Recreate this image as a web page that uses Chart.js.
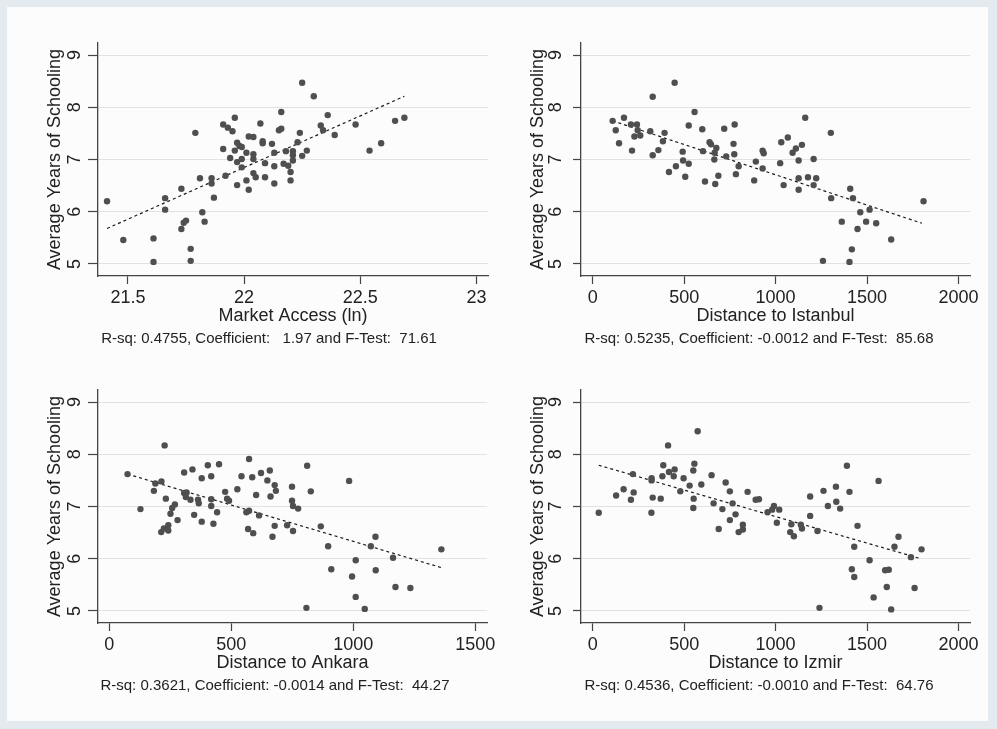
<!DOCTYPE html>
<html>
<head>
<meta charset="utf-8">
<script src="https://cdn.jsdelivr.net/npm/chart.js@4.4.0/dist/chart.umd.min.js"></script>
<style>
  html, body { margin: 0; padding: 0; }
  body { width: 997px; height: 729px; background: #e3eaf0; position: relative; overflow: hidden; }
  #sheet { position: absolute; left: 7px; top: 7px; width: 981px; height: 714px; background: #fcfcfc; }
  canvas { position: absolute; }
</style>
</head>
<body>
<div id="sheet"></div>
<canvas id="c1" width="486" height="330" style="left:10px;top:28px"></canvas>
<canvas id="c2" width="468" height="330" style="left:510px;top:28px"></canvas>
<canvas id="c3" width="485" height="330" style="left:10px;top:375px"></canvas>
<canvas id="c4" width="468" height="330" style="left:510px;top:375px"></canvas>
<script>
const yTicks = [5, 6, 7, 8, 9];
const yLabel = 'Average Years of Schooling';

// market access (ln)
const maTicks = [21.5, 22, 22.5, 23];
const maX = [21.41,21.48,21.61,21.61,21.66,21.66,21.73,21.73,21.74,21.75,21.77,21.77,21.79,21.81,21.82,21.83,21.86,21.86,21.87,21.91,
  21.93,21.95,21.96,21.91,21.92,21.94,21.96,21.97,21.97,21.97,21.98,21.99,21.99,21.99,22.01,22.01,22.02,22.02,22.04,22.04,
  22.04,22.04,22.05,22.07,22.08,22.08,22.09,22.09,22.12,22.13,22.13,22.13,22.15,22.16,22.16,22.17,22.18,22.19,22.20,22.20,
  22.21,22.21,22.21,22.23,22.24,22.25,22.25,22.27,22.30,22.33,22.34,22.36,22.39,22.48,22.54,22.59,22.65,22.69];
const maY = [6.20,5.46,5.49,5.04,6.26,6.04,6.44,5.67,5.79,5.83,5.29,5.06,7.51,6.64,5.99,5.81,6.64,6.54,6.27,7.67,
  7.61,7.54,7.80,7.20,6.69,7.03,7.17,6.51,6.95,7.32,7.26,7.24,7.01,6.85,6.60,7.13,6.42,7.44,7.43,7.10,
  7.01,6.74,6.66,7.69,7.31,7.35,6.93,6.66,7.30,6.87,6.54,7.13,7.56,7.91,7.59,6.92,7.16,6.88,6.76,6.60,
  6.98,7.08,7.16,7.33,7.51,8.47,7.07,7.17,8.21,7.65,7.56,7.85,7.47,7.67,7.17,7.31,7.74,7.80];
const maFitX = [21.41, 22.69];
const maFitY = [5.68, 8.21];
const maNote = 'R-sq: 0.4755, Coefficient:   1.97 and F-Test:  71.61';

// distance to istanbul
const distTicks = [0, 500, 1000, 1500, 2000];
const istX = [109,126,144,171,209,215,228,242,246,260,315,328,328,359,384,393,417,448,455,492,
  494,506,525,525,557,599,603,614,639,647,665,667,670,676,687,719,730,776,770,774,
  783,798,883,892,929,935,929,1025,1031,1044,1067,1093,1111,1126,1126,1126,1144,1162,1177,1208,
  1208,1222,1259,1302,1304,1362,1408,1404,1417,1423,1448,1463,1514,1495,1550,1632,1809];
const istY = [7.74,7.56,7.31,7.80,7.67,7.17,7.44,7.67,7.56,7.46,7.54,8.20,7.08,7.18,7.35,7.51,6.76,8.47,6.87,7.15,
  6.98,6.67,6.92,7.65,7.91,7.58,7.16,6.58,7.33,7.29,7.00,7.13,6.53,7.22,6.69,7.59,7.06,7.67,7.30,7.10,
  6.72,6.87,6.60,6.96,7.17,7.12,6.83,6.93,7.33,6.51,7.42,7.13,7.21,6.98,6.64,6.42,7.28,7.80,6.66,7.01,
  6.51,6.64,5.06,7.51,6.26,5.81,6.44,5.04,5.28,6.26,5.67,5.99,6.04,5.81,5.78,5.47,6.20];
const istFitX = [109, 1800];
const istFitY = [7.74, 5.78];
const istNote = 'R-sq: 0.5235, Coefficient: -0.0012 and F-Test:  85.68';

// distance to ankara
const ankTicks = [0, 500, 1000, 1500];
const ankX = [75,128,183,189,214,227,232,213,224,242,242,251,258,269,280,307,307,317,314,333,
  341,348,364,367,379,379,404,418,418,418,427,442,450,475,483,491,525,542,562,573,
  573,586,569,590,602,614,622,648,658,661,678,683,678,669,729,749,749,753,753,774,
  808,811,826,867,897,910,983,995,1010,1010,1047,1072,1091,1092,1163,1173,1234,1361];
const ankY = [7.62,6.95,7.30,7.44,7.48,8.17,7.15,6.51,6.58,6.64,6.54,6.86,6.97,7.04,6.74,7.65,7.26,7.27,7.18,7.13,
  7.71,6.84,7.13,7.06,7.54,6.71,7.79,7.58,7.14,7.01,6.67,6.89,7.81,7.28,7.15,7.11,7.33,7.58,6.89,7.91,
  6.92,7.56,6.57,6.49,7.22,6.83,7.64,7.50,7.69,7.19,7.41,7.30,6.63,6.42,6.64,7.38,7.11,7.01,6.53,6.96,
  5.06,7.78,7.29,6.62,6.24,5.80,7.49,5.66,5.97,5.27,5.04,6.24,6.42,5.78,6.02,5.46,5.44,6.18];
const ankFitX = [75, 1361];
const ankFitY = [7.62, 5.83];
const ankNote = 'R-sq: 0.3621, Coefficient: -0.0014 and F-Test:  44.27';

// distance to izmir
const izmX = [33,128,169,209,220,224,322,322,328,321,372,381,386,412,417,443,448,479,497,530,
  550,556,552,550,574,594,650,661,689,709,727,750,750,765,781,798,821,821,847,891,
  909,956,981,991,1007,1020,1086,1080,1100,1138,1144,1189,1189,1229,1240,1262,1286,1330,1332,1353,
  1390,1404,1417,1430,1430,1448,1514,1536,1563,1599,1619,1608,1632,1650,1672,1740,1760,1798];
const izmY = [6.88,7.21,7.33,7.13,7.62,7.27,7.54,7.50,7.17,6.88,7.15,7.58,7.79,8.17,7.66,7.58,7.71,7.29,7.54,7.40,
  7.69,7.82,7.15,6.97,8.44,7.42,7.60,7.06,6.57,6.95,7.46,7.29,6.74,7.06,6.85,6.51,6.65,6.56,7.28,7.13,
  7.14,6.89,6.94,7.01,6.69,6.94,6.66,6.51,6.43,6.65,6.58,7.19,6.82,6.53,5.06,7.30,7.01,7.38,7.09,6.96,
  7.78,7.28,5.80,6.23,5.65,6.63,5.97,5.26,7.49,5.78,5.79,5.46,5.03,6.23,6.42,6.03,5.44,6.18];
const izmFitX = [33, 1785];
const izmFitY = [7.79, 6.01];
const izmNote = 'R-sq: 0.4536, Coefficient: -0.0010 and F-Test:  64.76';

Chart.defaults.font.family = '"Liberation Sans", Arial, sans-serif';

const panels = [
  { id: 'c1', xs: maX, ys: maY, fx: maFitX, fy: maFitY, ticks: maTicks, min: 21.371, max: 23.05,
    title: 'Market Access (ln)', note: maNote, padL: 40, yW: 48, yTitlePad: -5.8, tickLen: 10, tickPad: 8 },
  { id: 'c2', xs: istX, ys: istY, fx: istFitX, fy: istFitY, ticks: distTicks, min: -64, max: 2063,
    title: 'Distance to Istanbul', note: istNote, padL: 38, yW: 33, yTitlePad: -20.8, tickLen: 8, tickPad: 12 },
  { id: 'c3', xs: ankX, ys: ankY, fx: ankFitX, fy: ankFitY, ticks: ankTicks, min: -46, max: 1548,
    title: 'Distance to Ankara', note: ankNote, padL: 53, yW: 35, yTitlePad: -18.8, tickLen: 10, tickPad: 8 },
  { id: 'c4', xs: izmX, ys: izmY, fx: izmFitX, fy: izmFitY, ticks: distTicks, min: -64, max: 2063,
    title: 'Distance to Izmir', note: izmNote, padL: 38, yW: 33, yTitlePad: -20.8, tickLen: 8, tickPad: 12 }
];

function makeChart(p) {
  const pts = p.xs.map((x, i) => ({ x: x, y: p.ys[i] }));
  const fit = p.fx.map((x, i) => ({ x: x, y: p.fy[i] }));
  new Chart(document.getElementById(p.id), {
    type: 'scatter',
    data: {
      datasets: [
        { data: pts, pointRadius: 3.2, backgroundColor: '#4f4f4f', borderColor: '#4f4f4f', pointBorderWidth: 0 },
        { data: fit, showLine: true, borderColor: '#1a1a1a', borderWidth: 1.2, borderDash: [3, 3], pointRadius: 0 }
      ]
    },
    options: {
      responsive: false,
      animation: false,
      layout: { padding: { left: p.padL, right: 8, top: 15, bottom: 9.7 } },
      plugins: {
        legend: { display: false },
        tooltip: { enabled: false },
        title: { display: true, position: 'bottom', text: p.note, color: '#222',
                 font: { size: 15, weight: 'normal' }, padding: { top: 3, bottom: 0 } }
      },
      scales: {
        x: {
          type: 'linear', min: p.min, max: p.max,
          afterBuildTicks: s => { s.ticks = p.ticks.map(v => ({ value: v })); },
          afterFit: s => { s.height = 51.3; s.paddingLeft = 0; s.paddingRight = 0; },
          ticks: { color: '#222', font: { size: 18 }, padding: 3, maxRotation: 0, callback: v => String(v) },
          grid: { drawOnChartArea: false, tickLength: 8, tickColor: '#444', tickWidth: 1.2 },
          border: { color: '#444', width: 1.3 },
          title: { display: true, text: p.title, color: '#222', font: { size: 18 }, padding: 0 }
        },
        y: {
          min: 4.77, max: 9.23,
          afterBuildTicks: s => { s.ticks = yTicks.map(v => ({ value: v })); },
          afterFit: s => { s.width = p.yW; s.paddingTop = 0; s.paddingBottom = 0; },
          ticks: { color: '#222', font: { size: 18 }, padding: p.tickPad, minRotation: 90, maxRotation: 90,
                   crossAlign: 'center', callback: v => String(v) },
          grid: { color: '#e2e2e2', lineWidth: 1, tickLength: p.tickLen, tickColor: '#444', tickWidth: 1.2 },
          border: { color: '#444', width: 1.3 },
          title: { display: true, text: yLabel, color: '#222', font: { size: 18 },
                   padding: { top: p.yTitlePad, bottom: 0 } }
        }
      }
    }
  });
}

panels.forEach(makeChart);
</script>
</body>
</html>
